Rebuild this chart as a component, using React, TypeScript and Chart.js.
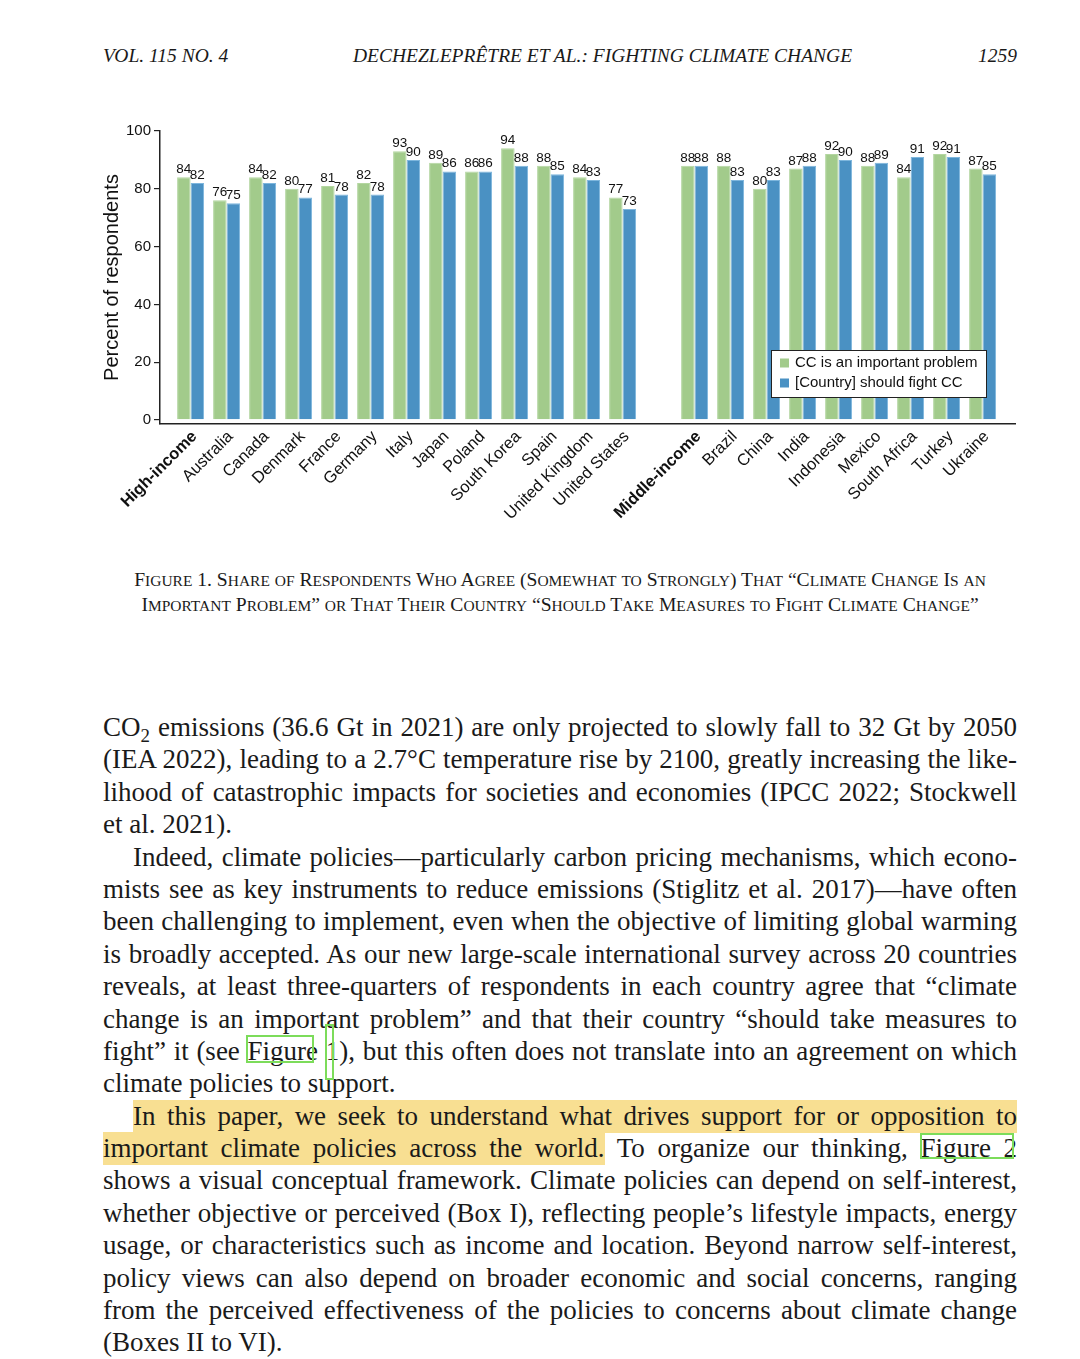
import React, { useEffect, useRef } from 'react';
import { Chart, registerables } from 'chart.js';

Chart.register(...registerables);

const categories = [
  'High-income', 'Australia', 'Canada', 'Denmark', 'France', 'Germany', 'Italy', 'Japan',
  'Poland', 'South Korea', 'Spain', 'United Kingdom', 'United States', '',
  'Middle-income', 'Brazil', 'China', 'India', 'Indonesia', 'Mexico', 'South Africa', 'Turkey', 'Ukraine',
];
const importantProblem = [84, 76, 84, 80, 81, 82, 93, 89, 86, 94, 88, 84, 77, null, 88, 88, 80, 87, 92, 88, 84, 92, 87];
const shouldFight = [82, 75, 82, 77, 78, 78, 90, 86, 86, 88, 85, 83, 73, null, 88, 83, 83, 88, 90, 89, 91, 91, 85];
const boldCategories = ['High-income', 'Middle-income'];
const yTicks = [0, 20, 40, 60, 80, 100];
const seriesLabels = ['CC is an important problem', '[Country] should fight CC'];
const yTitle = 'Percent of respondents';

const SANS = '"Liberation Sans", Arial, Helvetica, sans-serif';
const SERIF = '"Liberation Serif", "Times New Roman", Times, serif';
const GREEN = '#a2cb8b';
const BLUE = '#4a91c3';

const toPoints = (arr: (number | null)[]) =>
  arr.map((v, i) => (v == null ? null : { x: i, y: v })).filter((p) => p !== null) as { x: number; y: number }[];

const valueLabels = {
  id: 'valueLabels',
  afterDatasetsDraw(chart: any) {
    const ctx = chart.ctx;
    ctx.save();
    ctx.font = `13.5px ${SANS}`;
    ctx.fillStyle = '#111';
    ctx.textAlign = 'center';
    ctx.textBaseline = 'bottom';
    chart.data.datasets.forEach((ds: any, di: number) => {
      const meta = chart.getDatasetMeta(di);
      meta.data.forEach((el: any, i: number) => {
        const raw = ds.data[i];
        if (!raw) return;
        ctx.fillText(String(raw.y), el.x, el.y - 1);
      });
    });
    ctx.restore();
  },
};

const boxLegend = {
  id: 'boxLegend',
  afterDraw(chart: any) {
    const { ctx, chartArea } = chart;
    const w = 215;
    const h = 47;
    const x = chartArea.right - 29 - w;
    const y = chartArea.bottom - 27 - h;
    ctx.save();
    ctx.fillStyle = '#fff';
    ctx.fillRect(x, y, w, h);
    ctx.strokeStyle = '#222';
    ctx.lineWidth = 1;
    ctx.strokeRect(x + 0.5, y + 0.5, w, h);
    ctx.font = `15px ${SANS}`;
    ctx.textBaseline = 'middle';
    ctx.textAlign = 'left';
    chart.data.datasets.forEach((ds: any, i: number) => {
      const cy = y + 13 + i * 20;
      ctx.fillStyle = ds.backgroundColor;
      ctx.fillRect(x + 9, cy - 4.5, 9, 9);
      ctx.fillStyle = '#111';
      ctx.fillText(ds.label, x + 24, cy);
    });
    ctx.restore();
  },
};

function BarChart() {
  const ref = useRef<HTMLCanvasElement | null>(null);
  useEffect(() => {
    if (!ref.current) return;
    const chart = new Chart(ref.current, {
      type: 'bar',
      data: {
        datasets: [
          {
            label: seriesLabels[0],
            data: toPoints(importantProblem),
            backgroundColor: GREEN,
            borderColor: '#b3d6a0',
            borderWidth: 1,
          },
          {
            label: seriesLabels[1],
            data: toPoints(shouldFight),
            backgroundColor: BLUE,
            borderColor: '#7db6dd',
            borderWidth: 1,
          },
        ],
      },
      options: {
        animation: false,
        responsive: false,
        maintainAspectRatio: false,
        datasets: { bar: { categoryPercentage: 0.75, barPercentage: 1 } },
        layout: { padding: { left: 100, right: 65, top: 31, bottom: 0 } },
        plugins: { legend: { display: false }, tooltip: { enabled: false } },
        scales: {
          x: {
            type: 'linear',
            offset: false,
            min: -0.85,
            max: 22.9,
            afterBuildTicks: (s: any) => {
              s.ticks = categories
                .map((c, i) => ({ value: i, c }))
                .filter((t) => t.c !== '')
                .map((t) => ({ value: t.value }));
            },
            afterFit: (s: any) => {
              s.height = 126;
            },
            ticks: {
              autoSkip: false,
              minRotation: 45,
              maxRotation: 45,
              padding: -5,
              labelOffset: 4,
              color: '#111',
              callback: (v: any) => categories[v as number] ?? '',
              font: (ctx: any) => ({
                family: SANS,
                size: 16.5,
                weight: boldCategories.includes(categories[ctx.tick?.value]) ? 'bold' : 'normal',
              }),
            },
            grid: { display: false, offset: false },
            border: { display: true, color: '#222', width: 1.5 },
          },
          y: {
            min: -1.4,
            max: 100,
            afterBuildTicks: (s: any) => {
              s.ticks = yTicks.map((v) => ({ value: v }));
            },
            afterFit: (s: any) => {
              s.width = 60;
            },
            ticks: { color: '#111', padding: 3, font: { family: SANS, size: 15 } },
            grid: { drawOnChartArea: false, drawTicks: true, tickLength: 6, color: '#222', lineWidth: 1.2 },
            border: { display: true, color: '#222', width: 1.5 },
            title: {
              display: true,
              text: yTitle,
              color: '#111',
              padding: 0,
              font: { family: SANS, size: 20 },
            },
          },
        },
      },
      plugins: [valueLabels, boxLegend],
    } as any);
    return () => chart.destroy();
  }, []);
  return (
    <canvas
      ref={ref}
      width={1080}
      height={450}
      style={{ position: 'absolute', left: 0, top: 100, width: 1080, height: 450 }}
    />
  );
}

function SmallCaps({ text }: { text: string }) {
  const parts = text.match(/[a-z]+|[^a-z]+/g) || [];
  return (
    <>
      {parts.map((p, i) =>
        /^[a-z]/.test(p) ? (
          <span key={i} style={{ fontSize: '0.79em', textTransform: 'uppercase' }}>
            {p}
          </span>
        ) : (
          <span key={i}>{p}</span>
        ),
      )}
    </>
  );
}

const LH = 32.4;
const HL = '#f8df92';

function Line({ children, last, indent }: { children: any; last?: boolean; indent?: boolean }) {
  return (
    <div
      style={{
        height: LH,
        lineHeight: `${LH}px`,
        textAlign: last ? 'left' : 'justify',
        textAlignLast: last ? 'left' : 'justify',
        paddingLeft: indent ? 30 : 0,
        whiteSpace: 'nowrap',
      }}
    >
      {children}
    </div>
  );
}

const hl = { background: HL, paddingTop: 1, paddingBottom: 2 };

export default function App() {
  return (
    <div
      style={{
        position: 'relative',
        width: 1080,
        height: 1359,
        background: '#fff',
        overflow: 'hidden',
        color: '#1a1a1a',
        fontFamily: SERIF,
      }}
    >
      <style>{`body{margin:0;background:#fff}`}</style>
      <div style={{ position: 'absolute', top: 43, left: 103, fontSize: 19.5, fontStyle: 'italic', lineHeight: '26px' }}>
        VOL. 115 NO. 4
      </div>
      <div style={{ position: 'absolute', top: 43, left: 353, fontSize: 19.5, fontStyle: 'italic', lineHeight: '26px' }}>
        DECHEZLEPRÊTRE ET AL.: FIGHTING CLIMATE CHANGE
      </div>
      <div style={{ position: 'absolute', top: 43, right: 63, fontSize: 19.5, fontStyle: 'italic', lineHeight: '26px' }}>
        1259
      </div>

      <BarChart />

      <div
        style={{
          position: 'absolute',
          top: 568,
          left: 60,
          width: 1000,
          textAlign: 'center',
          fontSize: 19.6,
          lineHeight: '24px',
          whiteSpace: 'nowrap',
        }}
      >
        <div>
          <SmallCaps text="Figure 1. Share of Respondents Who Agree (Somewhat to Strongly) That “Climate Change Is an" />
        </div>
        <div>
          <SmallCaps text="Important Problem” or That Their Country “Should Take Measures to Fight Climate Change”" />
        </div>
      </div>

      <div style={{ position: 'absolute', top: 711, left: 103, width: 914, fontSize: 27 }}>
        <Line>
          CO<sub style={{ fontSize: '0.7em', lineHeight: 0 }}>2</sub> emissions (36.6 Gt in 2021) are only projected to slowly fall to 32 Gt by 2050
        </Line>
        <Line>(IEA 2022), leading to a 2.7°C temperature rise by 2100, greatly increasing the like-</Line>
        <Line>lihood of catastrophic impacts for societies and economies (IPCC 2022; Stockwell</Line>
        <Line last>et al. 2021).</Line>
        <Line indent>Indeed, climate policies—particularly carbon pricing mechanisms, which econo-</Line>
        <Line>mists see as key instruments to reduce emissions (Stiglitz et al. 2017)—have often</Line>
        <Line>been challenging to implement, even when the objective of limiting global warming</Line>
        <Line>is broadly accepted. As our new large-scale international survey across 20 countries</Line>
        <Line>reveals, at least three-quarters of respondents in each country agree that “climate</Line>
        <Line>change is an important problem” and that their country “should take measures to</Line>
        <Line>fight” it (see Figure 1), but this often does not translate into an agreement on which</Line>
        <Line last>climate policies to support.</Line>
        <Line indent>
          <span style={hl}>In this paper, we seek to understand what drives support for or opposition to</span>
        </Line>
        <Line>
          <span style={hl}>important climate policies across the world.</span> To organize our thinking, Figure 2
        </Line>
        <Line>shows a visual conceptual framework. Climate policies can depend on self-interest,</Line>
        <Line>whether objective or perceived (Box I), reflecting people’s lifestyle impacts, energy</Line>
        <Line>usage, or characteristics such as income and location. Beyond narrow self-interest,</Line>
        <Line>policy views can also depend on broader economic and social concerns, ranging</Line>
        <Line>from the perceived effectiveness of the policies to concerns about climate change</Line>
        <Line last>(Boxes II to VI).</Line>
      </div>

      <div style={{ position: 'absolute', left: 246, top: 1035, width: 64, height: 24, border: '2px solid #7cdc5a' }} />
      <div style={{ position: 'absolute', left: 325, top: 1024, width: 5, height: 52, border: '2px solid #7cdc5a' }} />
      <div style={{ position: 'absolute', left: 920, top: 1133, width: 90, height: 22, border: '2px solid #7cdc5a' }} />
    </div>
  );
}
